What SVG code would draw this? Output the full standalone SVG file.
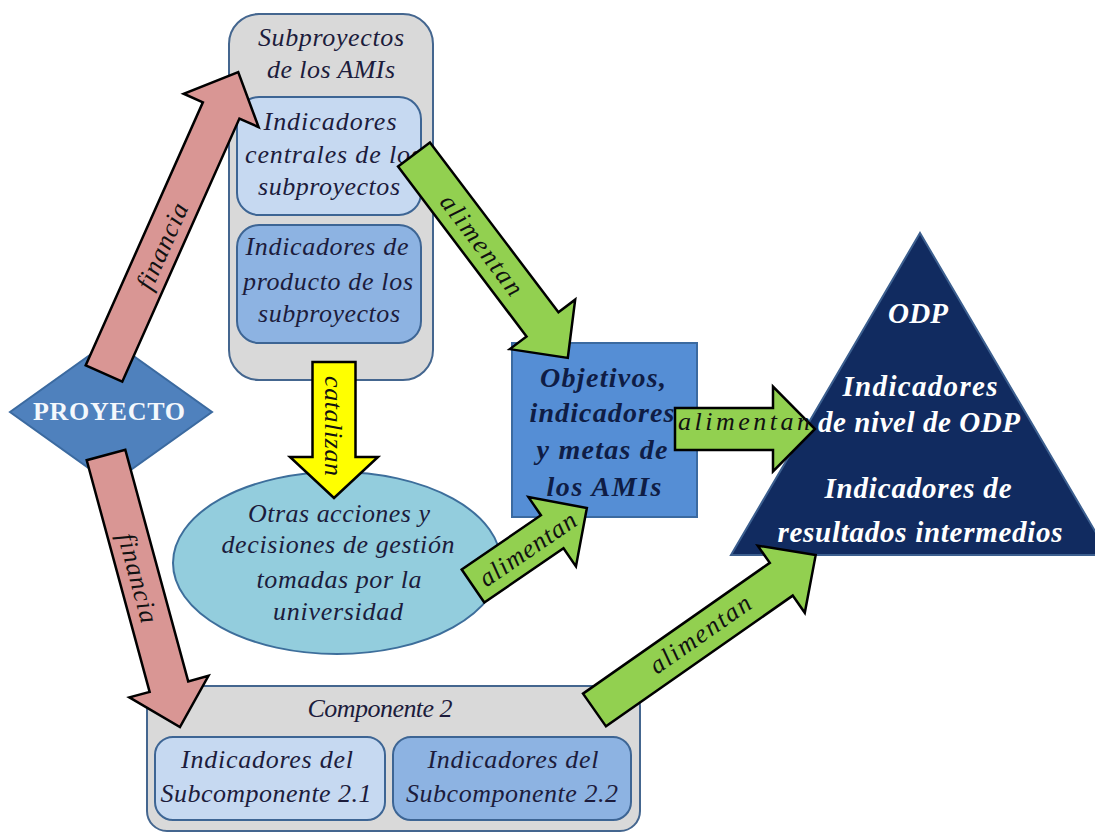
<svg xmlns="http://www.w3.org/2000/svg" width="1095" height="834" viewBox="0 0 1095 834">
<style>
text{font-family:'Liberation Serif',serif;text-anchor:middle}
.it{font-style:italic;font-size:26px;fill:#1c1c3c}
.bi{font-style:italic;font-weight:bold}
.lbl{font-style:italic;font-size:26px;fill:#111}
.cont{fill:#d9d9d9;stroke:#44668f;stroke-width:2}
.light{fill:#c6d9f1;stroke:#3d6594;stroke-width:2}
.mid{fill:#8db3e2;stroke:#3d6594;stroke-width:2}
.arr{stroke:#000;stroke-width:2.5;stroke-linejoin:miter}
.pink{fill:#d99694}
.green{fill:#92d050}
.yellow{fill:#ffff00}
</style>
<rect width="1095" height="834" fill="#fff"/>

<g id="proyecto">
<polygon points="10,412 111,340 212,412 111,484" fill="#4f81bd" stroke="#3b6aa0" stroke-width="2"/>
<text x="109" y="420" font-size="26" font-weight="bold" fill="#f4f8fc" textLength="152">PROYECTO</text>
</g>

<g id="subproyectos">
<rect class="cont" x="229" y="14" width="204" height="366" rx="30"/>
<text class="it" x="331" y="46" textLength="146">Subproyectos</text>
<text class="it" x="331" y="78" textLength="128">de los AMIs</text>
</g>

<g id="indicadores-centrales">
<rect class="light" x="237" y="97" width="184" height="118" rx="22"/>
<text class="it" x="330" y="130" textLength="133">Indicadores</text>
<text class="it" x="333" y="163" textLength="176">centrales de los</text>
<text class="it" x="329" y="195" textLength="142">subproyectos</text>
</g>

<g id="indicadores-producto">
<rect class="mid" x="237" y="225" width="184" height="118" rx="22"/>
<text class="it" x="327" y="255" textLength="163">Indicadores de</text>
<text class="it" x="328" y="290" textLength="170">producto de los</text>
<text class="it" x="329" y="322" textLength="142">subproyectos</text>
</g>

<g id="otras-acciones">
<ellipse cx="337" cy="563" rx="164" ry="91" fill="#93cddd" stroke="#3d6e9b" stroke-width="2"/>
<text class="it" x="339" y="522" textLength="182">Otras acciones y</text>
<text class="it" x="338" y="553" textLength="233">decisiones de gestión</text>
<text class="it" x="339" y="588" textLength="165">tomadas por la</text>
<text class="it" x="338" y="620" textLength="130">universidad</text>
</g>

<g id="objetivos">
<rect x="512" y="343" width="185" height="174" fill="#558ed5" stroke="#3b6aa0" stroke-width="2"/>
<text class="bi" x="603" y="387" font-size="28" fill="#0f1d45" textLength="126">Objetivos,</text>
<text class="bi" x="602" y="422" font-size="28" fill="#0f1d45" textLength="145">indicadores</text>
<text class="bi" x="602" y="459" font-size="28" fill="#0f1d45" textLength="131">y metas de</text>
<text class="bi" x="604" y="496" font-size="28" fill="#0f1d45" textLength="115">los AMIs</text>
</g>

<g id="odp">
<polygon points="920,233 1109,555 731,555" fill="#112b60" stroke="#3c5f8f" stroke-width="2"/>
<text class="bi" x="918" y="323" font-size="29" fill="#fff" textLength="60">ODP</text>
<text class="bi" x="920" y="396" font-size="29" fill="#fff" textLength="155">Indicadores</text>
<text class="bi" x="919" y="432" font-size="29" fill="#fff" textLength="202">de nivel de ODP</text>
<text class="bi" x="918" y="498" font-size="29" fill="#fff" textLength="187">Indicadores de</text>
<text class="bi" x="920" y="542" font-size="29" fill="#fff" textLength="285">resultados intermedios</text>
</g>

<g id="componente2">
<rect class="cont" x="147" y="686" width="493" height="145" rx="20"/>
<text class="it" x="380" y="717" textLength="145">Componente 2</text>
</g>

<g id="subcomponente21">
<rect class="light" x="155" y="737" width="230" height="83" rx="18"/>
<text class="it" x="267" y="768" textLength="172">Indicadores del</text>
<text class="it" x="266" y="802" textLength="211">Subcomponente 2.1</text>
</g>

<g id="subcomponente22">
<rect class="mid" x="393" y="737" width="238" height="83" rx="18"/>
<text class="it" x="513" y="768" textLength="171">Indicadores del</text>
<text class="it" x="512" y="802" textLength="212">Subcomponente 2.2</text>
</g>

<g id="connectors">
<g transform="translate(104,373.5) rotate(-66)">
<path class="arr pink" d="M0,-20 H288 V-41 L330,0 L288,41 V20 H0 Z"/>
<text class="lbl" x="140" y="10" textLength="92">financia</text>
</g>
<g transform="translate(106,455) rotate(74.8)">
<path class="arr pink" d="M0,-20 H240 V-41 L282,0 L240,41 V20 H0 Z"/>
<text class="lbl" x="127" y="10" textLength="92">financia</text>
</g>
<g transform="translate(334,362) rotate(90)">
<path class="arr yellow" d="M0,-21.5 H95 V-44 L136,0 L95,44 V21.5 H0 Z"/>
<text class="lbl" x="64" y="9" textLength="100">catalizan</text>
</g>
<g transform="translate(414,154.5) rotate(52.9)">
<path class="arr green" d="M0,-20 H213 V-41 L255,0 L213,41 V20 H0 Z"/>
<text class="lbl" x="113" y="9" textLength="120">alimentan</text>
</g>
<g transform="translate(675,429)">
<path class="arr green" d="M0,-21 H98 V-42.5 L140,0 L98,42.5 V21 H0 Z"/>
<text class="lbl" x="69" y="1" textLength="132">alimentan</text>
</g>
<g transform="translate(473,586) rotate(-34.4)">
<path class="arr green" d="M0,-20 H96 V-42 L138,0 L96,42 V20 H0 Z"/>
<text class="lbl" x="66" y="9" textLength="112">alimentan</text>
</g>
<g transform="translate(594.5,710) rotate(-35)">
<path class="arr green" d="M0,-20 H228 V-41 L270,0 L228,41 V20 H0 Z"/>
<text class="lbl" x="130" y="7" textLength="118">alimentan</text>
</g>
</g>
</svg>
